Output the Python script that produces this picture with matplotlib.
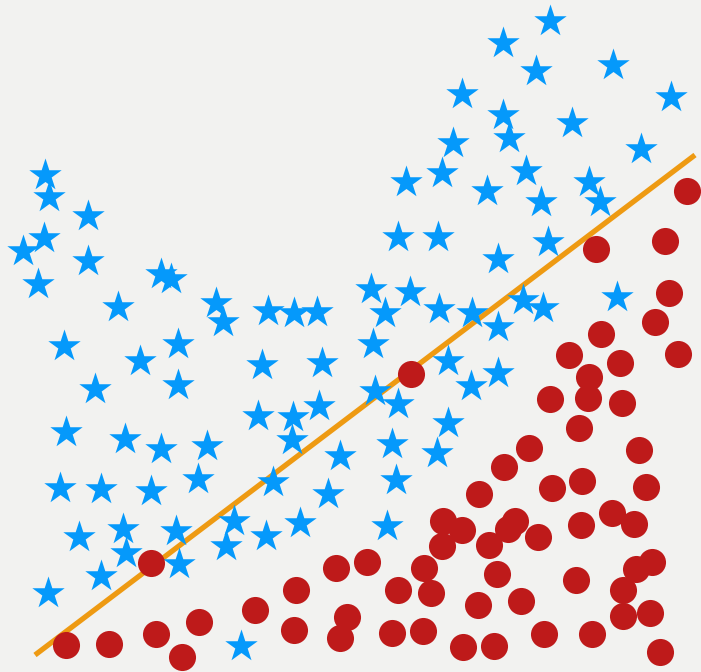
import matplotlib
matplotlib.use("Agg")
import matplotlib.pyplot as plt

star_x = [45, 49, 88, 44, 23, 88, 38, 161, 171, 118, 216, 223, 268, 294, 317,
          550, 503, 536, 613, 671, 462, 503, 509, 572, 453, 641, 442, 526, 406,
          487, 589, 541, 600, 398, 438, 548, 498, 371, 410, 385, 439, 472, 523,
          543, 617, 498,
          64, 140, 178, 178, 95, 262, 322, 66, 125, 161, 207, 198, 258, 293, 319,
          292, 340, 60, 101, 151, 273, 328, 79, 123, 126, 176, 234, 226, 266,
          300, 179, 101, 48, 241,
          373, 448, 498, 471, 375, 398, 448, 392, 437, 396, 387]
star_y = [175, 197, 216, 238, 251, 261, 284, 274, 279, 307, 303, 322, 311, 313, 312,
          21, 43, 71, 65, 97, 94, 115, 138, 123, 143, 149, 173, 171, 182,
          191, 182, 202, 202, 237, 237, 242, 259, 289, 292, 313, 309, 313, 300,
          308, 297, 327,
          346, 361, 344, 385, 389, 365, 363, 432, 439, 449, 446, 479, 416, 417, 406,
          440, 456, 488, 489, 491, 482, 494, 537, 529, 553, 531, 521, 546, 536,
          523, 564, 576, 593, 646,
          344, 361, 373, 386, 391, 404, 423, 444, 453, 480, 526]

# circle points (x, y)
dot_x = [687, 665, 596, 669, 655, 601,
         411, 569, 678, 620, 589, 550, 588, 622, 579, 529, 639, 504, 552, 582,
         646, 479, 443, 462, 442, 489, 515, 508, 538, 581, 612, 634, 367, 424,
         497, 576, 652, 636, 398, 431, 623, 478, 521, 623, 650, 392, 423, 544,
         592, 463, 494, 660,
         151, 336, 296, 255, 199, 156, 294, 66, 109, 182, 347, 340]
dot_y = [191, 241, 249, 293, 322, 334,
         374, 355, 354, 363, 377, 399, 398, 403, 428, 448, 450, 467, 488, 481,
         487, 494, 521, 530, 546, 545, 521, 529, 537, 525, 513, 524, 562, 568,
         574, 580, 562, 569, 590, 593, 590, 605, 601, 616, 613, 633, 631, 634,
         634, 647, 646, 652,
         563, 568, 590, 610, 622, 634, 630, 645, 644, 657, 617, 638]

# separating line
line_x = [35, 695]
line_y = [655, 155]

bg = "#f2f2f0"
fig = plt.figure(figsize=(7.01, 6.72), dpi=100, facecolor=bg)
ax = fig.add_axes([0, 0, 1, 1], facecolor=bg)

ax.plot(line_x, line_y, color="#ee9a12", lw=3.8, solid_capstyle="butt", zorder=1)
ax.scatter(star_x, star_y, marker="*", s=600, color="#0599fb", linewidths=0, zorder=2)
ax.scatter(dot_x, dot_y, marker="o", s=380, color="#be1a1a", linewidths=0, zorder=3)

ax.set_xlim(0, 701)
ax.set_ylim(672, 0)
ax.axis("off")

fig.savefig("out.png", dpi=100, facecolor=bg)
